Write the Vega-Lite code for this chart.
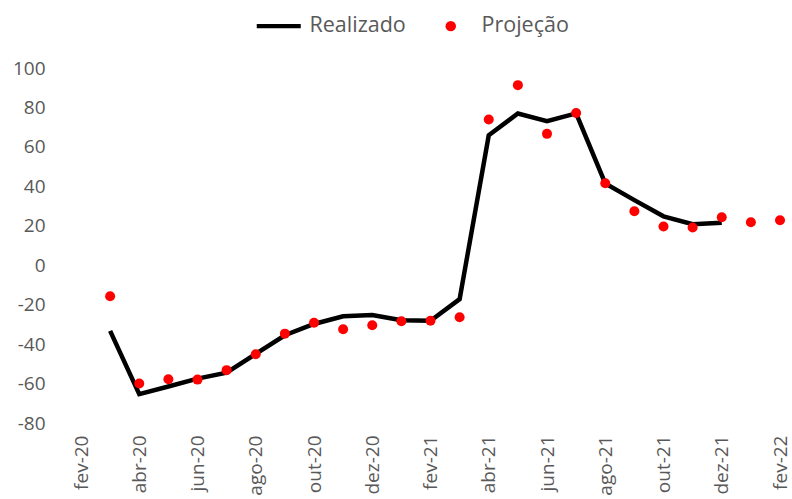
{
  "$schema": "https://vega.github.io/schema/vega-lite/v6.json",
  "autosize": "none",
  "width": 699,
  "height": 355,
  "padding": {"left": 81, "top": 68, "right": 12, "bottom": 76},
  "background": "white",
  "config": {
    "view": {"stroke": null},
    "font": "Open Sans",
    "axis": {"labelFont": "Open Sans", "labelColor": "#595959", "labelFontSize": 19, "grid": false, "ticks": false, "domain": false, "title": null},
    "legend": {"labelFont": "Open Sans", "labelColor": "#595959", "labelFontSize": 21.5}
  },
  "data": {
    "values": [
      {"mes": "mar-20", "serie": "Realizado", "valor": -33.3},
      {"mes": "abr-20", "serie": "Realizado", "valor": -65.4},
      {"mes": "mai-20", "serie": "Realizado", "valor": -61.5},
      {"mes": "jun-20", "serie": "Realizado", "valor": -57.5},
      {"mes": "jul-20", "serie": "Realizado", "valor": -54.5},
      {"mes": "ago-20", "serie": "Realizado", "valor": -45},
      {"mes": "set-20", "serie": "Realizado", "valor": -35.5},
      {"mes": "out-20", "serie": "Realizado", "valor": -29.8},
      {"mes": "nov-20", "serie": "Realizado", "valor": -25.9},
      {"mes": "dez-20", "serie": "Realizado", "valor": -25.2},
      {"mes": "jan-21", "serie": "Realizado", "valor": -27.9},
      {"mes": "fev-21", "serie": "Realizado", "valor": -28.2},
      {"mes": "mar-21", "serie": "Realizado", "valor": -17.2},
      {"mes": "abr-21", "serie": "Realizado", "valor": 65.9},
      {"mes": "mai-21", "serie": "Realizado", "valor": 76.9},
      {"mes": "jun-21", "serie": "Realizado", "valor": 73},
      {"mes": "jul-21", "serie": "Realizado", "valor": 77},
      {"mes": "ago-21", "serie": "Realizado", "valor": 41.5},
      {"mes": "set-21", "serie": "Realizado", "valor": 33},
      {"mes": "out-21", "serie": "Realizado", "valor": 24.8},
      {"mes": "nov-21", "serie": "Realizado", "valor": 20.8},
      {"mes": "dez-21", "serie": "Realizado", "valor": 21.5},
      {"mes": "mar-20", "serie": "Projeção", "valor": -15.7},
      {"mes": "abr-20", "serie": "Projeção", "valor": -60},
      {"mes": "mai-20", "serie": "Projeção", "valor": -57.8},
      {"mes": "jun-20", "serie": "Projeção", "valor": -58},
      {"mes": "jul-20", "serie": "Projeção", "valor": -53.2},
      {"mes": "ago-20", "serie": "Projeção", "valor": -45.1},
      {"mes": "set-20", "serie": "Projeção", "valor": -34.7},
      {"mes": "out-20", "serie": "Projeção", "valor": -29.2},
      {"mes": "nov-20", "serie": "Projeção", "valor": -32.5},
      {"mes": "dez-20", "serie": "Projeção", "valor": -30.4},
      {"mes": "jan-21", "serie": "Projeção", "valor": -28.4},
      {"mes": "fev-21", "serie": "Projeção", "valor": -28.2},
      {"mes": "mar-21", "serie": "Projeção", "valor": -26.4},
      {"mes": "abr-21", "serie": "Projeção", "valor": 73.9},
      {"mes": "mai-21", "serie": "Projeção", "valor": 91.3},
      {"mes": "jun-21", "serie": "Projeção", "valor": 66.6},
      {"mes": "jul-21", "serie": "Projeção", "valor": 77.2},
      {"mes": "ago-21", "serie": "Projeção", "valor": 41.6},
      {"mes": "set-21", "serie": "Projeção", "valor": 27.4},
      {"mes": "out-21", "serie": "Projeção", "valor": 19.6},
      {"mes": "nov-21", "serie": "Projeção", "valor": 19.1},
      {"mes": "dez-21", "serie": "Projeção", "valor": 24.3},
      {"mes": "jan-22", "serie": "Projeção", "valor": 21.8},
      {"mes": "fev-22", "serie": "Projeção", "valor": 22.8}
    ]
  },
  "encoding": {
    "x": {
      "field": "mes", "type": "ordinal", "sort": null,
      "scale": {"type": "point", "padding": 0, "domain": ["fev-20","mar-20","abr-20","mai-20","jun-20","jul-20","ago-20","set-20","out-20","nov-20","dez-20","jan-21","fev-21","mar-21","abr-21","mai-21","jun-21","jul-21","ago-21","set-21","out-21","nov-21","dez-21","jan-22","fev-22"]},
      "axis": {"values": ["fev-20","abr-20","jun-20","ago-20","out-20","dez-20","fev-21","abr-21","jun-21","ago-21","out-21","dez-21","fev-22"], "labelAngle": -90, "labelPadding": 12}
    },
    "y": {
      "field": "valor", "type": "quantitative",
      "scale": {"domain": [-80, 100], "nice": false},
      "axis": {"values": [-80,-60,-40,-20,0,20,40,60,80,100], "labelPadding": 36, "labelExpr": "datum.value < 0 ? '-' + abs(datum.value) : '' + datum.value"}
    },
    "color": {
      "field": "serie", "type": "nominal",
      "scale": {"domain": ["Realizado", "Projeção"], "range": ["#000000", "#FF0000"]},
      "legend": {
        "title": null, "orient": "none", "direction": "horizontal",
        "legendX": 187, "legendY": -53, "columnPadding": 34, "labelOffset": 20,
        "encode": {
          "symbols": {
            "update": {
              "shape": {"signal": "datum.value === 'Realizado' ? 'M-1,-0.1H1V0.1H-1Z' : 'circle'"},
              "size": {"signal": "datum.value === 'Realizado' ? 1936 : 110"},
              "fill": {"signal": "datum.value === 'Realizado' ? '#000000' : '#FF0000'"},
              "stroke": {"value": "transparent"},
              "strokeWidth": {"value": 0},
              "opacity": {"value": 1},
              "fillOpacity": {"value": 1}
            }
          }
        }
      }
    }
  },
  "layer": [
    {
      "transform": [{"filter": "datum.serie === 'Realizado'"}],
      "mark": {"type": "line", "strokeWidth": 4.5, "strokeJoin": "miter"}
    },
    {
      "transform": [{"filter": "datum.serie === 'Projeção'"}],
      "mark": {"type": "point", "filled": true, "size": 100, "opacity": 1}
    }
  ]
}
